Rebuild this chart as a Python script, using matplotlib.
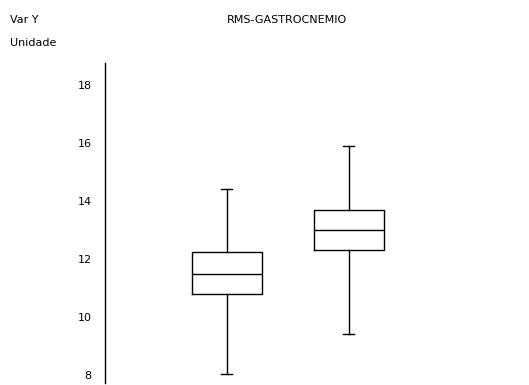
import matplotlib
matplotlib.use("Agg")
import matplotlib.pyplot as plt

# valores (RMS gastrocnemio)
positions = [1, 2]
whis_low = [8.03, 9.41]
q1 = [10.78, 12.32]
medians = [11.49, 12.99]
q3 = [12.23, 13.70]
whis_high = [14.41, 15.89]
yticks = [8, 10, 12, 14, 16, 18]

plt.rcParams['font.family'] = ['DejaVu Sans']

fig = plt.figure(figsize=(5.29, 3.85), dpi=100)
ax = fig.add_axes([105 / 529, 2 / 385, 1 - 105 / 529, 320 / 385])

stats = []
for i in range(len(positions)):
    stats.append({
        "whislo": whis_low[i], "q1": q1[i], "med": medians[i],
        "q3": q3[i], "whishi": whis_high[i], "fliers": [],
    })

line = dict(color="black", linewidth=1.0)
ax.bxp(stats, positions=positions, widths=0.575, capwidths=0.09,
       showfliers=False, boxprops=line, medianprops=line,
       whiskerprops=line, capprops=line)

ax.set_xlim(0, 3.48)
ax.set_ylim(7.72, 18.76)
ax.set_yticks(yticks)
ax.set_yticklabels([str(t) for t in yticks])
ax.set_xticks([])
for side in ["top", "right", "bottom"]:
    ax.spines[side].set_visible(False)
ax.spines["left"].set_linewidth(1.0)
ax.tick_params(axis="y", length=0, pad=9.5, labelsize=8)

fig.text(10 / 529, 1 - 20 / 385, "Var Y", fontsize=8, va="center", ha="left")
fig.text(10 / 529, 1 - 43 / 385, "Unidade", fontsize=8, va="center", ha="left")
fig.text(287 / 529, 1 - 20 / 385, "RMS-GASTROCNEMIO", fontsize=8,
         va="center", ha="center")

fig.savefig("out.png", dpi=100)
